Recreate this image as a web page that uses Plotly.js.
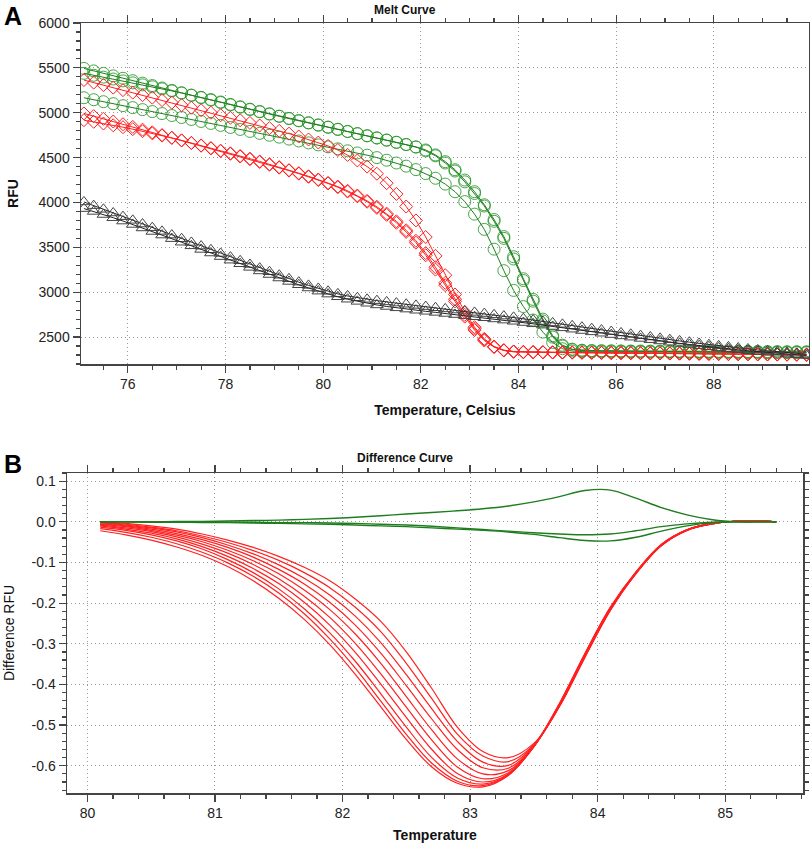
<!DOCTYPE html>
<html>
<head>
<meta charset="utf-8">
<script src="https://cdn.plot.ly/plotly-3.0.1.min.js"></script>
<style>html,body{margin:0;padding:0;background:#fff;}#chart{width:810px;height:845px;}</style>
</head>
<body>
<div id="chart"></div>
<script>
// ---------- Panel A: Melt Curve ----------
var temps = [75.1,75.3,75.5,75.7,75.9,76.1,76.3,76.5,76.7,76.9,
  77.1,77.3,77.5,77.7,77.9,78.1,78.3,78.5,78.7,78.9,
  79.1,79.3,79.5,79.7,79.9,80.1,80.3,80.5,80.7,80.9,
  81.1,81.3,81.5,81.7,81.9,82.1,82.3,82.5,82.7,82.9,
  83.1,83.3,83.5,83.7,83.9,84.1,84.3,84.5,84.7,84.9,
  85.1,85.3,85.5,85.7,85.9,86.1,86.3,86.5,86.7,86.9,
  87.1,87.3,87.5,87.7,87.9,88.1,88.3,88.5,88.7,88.9,
  89.1,89.3,89.5,89.7,89.9];

var green1 = [5494,5466,5438,5411,5384,5357,5330,5303,5276,5249,
  5222,5195,5168,5141,5114,5088,5062,5036,5010,4985,
  4960,4935,4910,4886,4862,4838,4814,4790,4766,4742,
  4718,4694,4670,4645,4618,4575,4520,4440,4350,4230,
  4100,3960,3790,3600,3370,3130,2900,2680,2500,2400,
  2360,2350,2346,2344,2343,2342,2341,2340,2340,2339,
  2338,2338,2337,2337,2336,2336,2335,2335,2334,2334,
  2333,2333,2332,2332,2331];
var green2 = [5439,5418,5397,5376,5355,5333,5311,5289,5266,5243,
  5220,5196,5172,5147,5120,5093,5066,5040,5014,4988,
  4962,4937,4912,4888,4864,4840,4816,4792,4768,4744,
  4720,4696,4671,4646,4619,4585,4530,4455,4365,4250,
  4120,3975,3810,3620,3395,3150,2920,2700,2515,2410,
  2365,2354,2350,2348,2347,2346,2345,2345,2344,2344,
  2343,2343,2342,2342,2341,2341,2340,2340,2339,2339,
  2338,2338,2337,2337,2336];
var green3 = [5167,5145,5123,5101,5079,5057,5035,5013,4991,4969,
  4947,4925,4903,4881,4859,4836,4814,4792,4770,4749,
  4728,4706,4685,4664,4642,4620,4598,4576,4552,4527,
  4500,4471,4440,4405,4366,4322,4270,4205,4120,4010,
  3870,3700,3480,3240,3020,2840,2690,2555,2440,2370,
  2345,2338,2336,2335,2334,2334,2333,2333,2332,2332,
  2331,2331,2330,2330,2330,2329,2329,2328,2328,2328,
  2327,2327,2326,2326,2326];
var red1 = [5364,5336,5308,5280,5252,5224,5196,5168,5140,5112,
  5084,5056,5028,5000,4972,4944,4916,4887,4858,4828,
  4798,4767,4735,4702,4668,4630,4585,4530,4468,4400,
  4320,4215,4095,3955,3800,3615,3405,3190,2975,2780,
  2610,2480,2395,2355,2340,2336,2334,2333,2332,2331,
  2330,2329,2328,2327,2326,2325,2324,2323,2322,2321,
  2320,2319,2318,2317,2316,2315,2314,2313,2312,2311,
  2310,2309,2308,2307,2306];
var red2 = [4992,4962,4932,4902,4872,4842,4812,4782,4752,4722,
  4692,4662,4632,4602,4572,4542,4512,4482,4451,4420,
  4388,4355,4321,4286,4250,4212,4170,4122,4068,4008,
  3940,3862,3774,3672,3552,3412,3252,3078,2898,2728,
  2578,2462,2388,2350,2336,2331,2330,2329,2328,2327,
  2326,2325,2324,2323,2322,2321,2320,2319,2318,2317,
  2316,2315,2314,2313,2312,2311,2310,2309,2308,2307,
  2306,2305,2304,2303,2302];
var red3 = [4917,4899,4880,4860,4839,4817,4794,4770,4745,4719,
  4692,4664,4636,4607,4578,4548,4518,4488,4457,4426,
  4394,4361,4327,4292,4256,4218,4177,4130,4077,4018,
  3952,3876,3790,3690,3573,3436,3278,3104,2922,2748,
  2594,2472,2393,2352,2337,2332,2331,2330,2329,2328,
  2327,2326,2325,2324,2323,2322,2321,2320,2319,2318,
  2317,2316,2315,2314,2313,2312,2311,2310,2309,2308,
  2307,2306,2305,2304,2303];
var black1 = [4006,3965,3924,3883,3842,3801,3760,3719,3678,3637,
  3596,3555,3514,3473,3432,3391,3350,3309,3268,3228,
  3189,3150,3112,3076,3042,3010,2982,2958,2938,2921,
  2906,2892,2879,2866,2853,2840,2827,2814,2801,2788,
  2775,2762,2748,2734,2720,2705,2690,2674,2658,2642,
  2626,2610,2594,2578,2562,2546,2531,2516,2501,2486,
  2471,2457,2443,2429,2415,2402,2390,2378,2367,2356,
  2346,2337,2328,2319,2310];
var black2 = [3932,3900,3866,3830,3793,3755,3716,3677,3637,3597,
  3557,3517,3477,3437,3397,3357,3317,3277,3237,3197,
  3158,3120,3083,3047,3012,2979,2949,2922,2898,2877,
  2858,2841,2826,2812,2799,2787,2775,2763,2751,2739,
  2727,2715,2702,2689,2676,2662,2648,2633,2618,2603,
  2588,2573,2558,2543,2528,2513,2499,2485,2471,2457,
  2443,2430,2417,2404,2392,2380,2369,2358,2348,2338,
  2329,2320,2311,2302,2294];

// ---------- Panel B: Difference Curve ----------
var diffTemps = [80.1,80.3,80.5,80.7,80.9,81.1,81.3,81.5,81.7,81.9,
  82.1,82.3,82.5,82.7,82.9,83.1,83.3,83.5,83.7,83.9,
  84.1,84.3,84.5,84.7,84.9,85.1,85.3,85.4];

var diffRed0 = [0.000,-0.004,-0.010,-0.018,-0.030,-0.045,-0.063,-0.085,-0.112,-0.145,-0.190,-0.245,-0.320,-0.410,-0.505,-0.565,-0.580,
  -0.545,-0.455,-0.334,-0.218,-0.128,-0.059,-0.021,-0.005,0.002,0.002,0.000];
var diffRed1 = [-0.002,-0.006,-0.013,-0.022,-0.035,-0.051,-0.071,-0.095,-0.125,-0.162,-0.210,-0.270,-0.348,-0.435,-0.522,-0.576,-0.590,
  -0.548,-0.454,-0.332,-0.217,-0.127,-0.058,-0.021,-0.005,0.002,0.002,0.000];
var diffRed2 = [-0.003,-0.008,-0.015,-0.025,-0.039,-0.057,-0.079,-0.106,-0.139,-0.180,-0.232,-0.297,-0.376,-0.460,-0.540,-0.591,-0.599,
  -0.550,-0.453,-0.331,-0.216,-0.127,-0.058,-0.021,-0.005,0.002,0.002,0.000];
var diffRed3 = [-0.005,-0.010,-0.018,-0.029,-0.044,-0.063,-0.087,-0.117,-0.153,-0.198,-0.254,-0.323,-0.403,-0.485,-0.560,-0.605,-0.606,
  -0.551,-0.452,-0.330,-0.215,-0.126,-0.058,-0.020,-0.005,0.002,0.002,0.000];
var diffRed4 = [-0.006,-0.012,-0.021,-0.033,-0.049,-0.070,-0.096,-0.128,-0.168,-0.216,-0.276,-0.348,-0.430,-0.512,-0.583,-0.620,-0.612,
  -0.552,-0.451,-0.329,-0.214,-0.126,-0.057,-0.020,-0.004,0.002,0.002,0.000];
var diffRed5 = [-0.008,-0.015,-0.024,-0.037,-0.055,-0.077,-0.105,-0.140,-0.183,-0.235,-0.299,-0.374,-0.456,-0.537,-0.603,-0.632,-0.617,
  -0.553,-0.450,-0.328,-0.213,-0.125,-0.057,-0.020,-0.004,0.002,0.002,0.000];
var diffRed6 = [-0.010,-0.018,-0.028,-0.042,-0.061,-0.085,-0.115,-0.152,-0.198,-0.254,-0.321,-0.399,-0.481,-0.560,-0.619,-0.640,-0.620,
  -0.553,-0.449,-0.327,-0.212,-0.125,-0.057,-0.020,-0.004,0.002,0.002,0.000];
var diffRed7 = [-0.013,-0.021,-0.032,-0.047,-0.067,-0.093,-0.125,-0.165,-0.214,-0.273,-0.343,-0.423,-0.505,-0.580,-0.630,-0.645,-0.622,
  -0.553,-0.449,-0.326,-0.211,-0.124,-0.056,-0.020,-0.004,0.002,0.002,0.000];
var diffRed8 = [-0.017,-0.026,-0.038,-0.054,-0.075,-0.101,-0.134,-0.175,-0.226,-0.288,-0.360,-0.441,-0.523,-0.594,-0.638,-0.649,-0.623,
  -0.553,-0.448,-0.325,-0.211,-0.124,-0.056,-0.020,-0.004,0.002,0.002,0.000];
var diffRed9 = [-0.022,-0.032,-0.045,-0.062,-0.083,-0.110,-0.145,-0.188,-0.240,-0.302,-0.375,-0.455,-0.535,-0.603,-0.643,-0.652,-0.624,
  -0.552,-0.447,-0.324,-0.210,-0.124,-0.056,-0.020,-0.004,0.002,0.002,0.000];

var diffGreenA = [0.000,0.000,0.000,0.001,0.001,0.002,0.003,0.004,0.006,0.008,0.011,0.015,0.019,0.023,0.027,0.032,0.039,
  0.049,0.062,0.077,0.078,0.058,0.035,0.017,0.005,0.000,0.000,0.000];
var diffGreenB = [0.000,0.000,0.000,0.000,0.000,-0.001,-0.001,-0.002,-0.002,-0.003,-0.004,-0.006,-0.008,-0.011,-0.015,-0.019,-0.023,
  -0.027,-0.030,-0.032,-0.030,-0.022,-0.012,-0.005,-0.001,0.000,0.000,0.000];
var diffGreenC = [0.000,0.000,-0.001,-0.001,-0.002,-0.002,-0.003,-0.004,-0.005,-0.006,-0.008,-0.010,-0.012,-0.015,-0.018,-0.021,-0.025,
  -0.031,-0.039,-0.046,-0.047,-0.038,-0.023,-0.010,-0.002,0.000,0.000,0.000];

var diffTickVals = [0.1,0.0,-0.1,-0.2,-0.3,-0.4,-0.5,-0.6];
var diffTickText = ['0.1','0.0','-0.1','-0.2','-0.3','-0.4','-0.5','-0.6'];

// ---------- Traces ----------
var GREEN_LINE = '#1e7d1e', GREEN_MK = 'rgba(40,150,40,0.85)';
var RED = '#ff2020', BLACK = '#222222';
var traces = [];
function meltTrace(y, sym, mk, ln, sz){
  return {x: temps, y: y, type:'scatter', mode:'lines+markers', xaxis:'x', yaxis:'y',
    line:{color:ln, width:1}, marker:{symbol:sym, size:sz, color:mk, line:{width:1, color:mk}},
    hoverinfo:'skip', showlegend:false};
}
[green1, green2, green3].forEach(function(s){ traces.push(meltTrace(s,'circle-open',GREEN_MK,GREEN_LINE,12)); });
[red1, red2, red3].forEach(function(s){ traces.push(meltTrace(s,'diamond-open',RED,RED,10)); });
[black1, black2].forEach(function(s){ traces.push(meltTrace(s,'triangle-up-open','#444',BLACK,11)); });

[diffRed0,diffRed1,diffRed2,diffRed3,diffRed4,diffRed5,diffRed6,diffRed7,diffRed8,diffRed9].forEach(function(s){
  traces.push({x: diffTemps, y: s, type:'scatter', mode:'lines', xaxis:'x2', yaxis:'y2',
    line:{color:RED, width:1.2, shape:'spline', smoothing:1}, hoverinfo:'skip', showlegend:false});
});
[diffGreenA, diffGreenB, diffGreenC].forEach(function(s){
  traces.push({x: diffTemps, y: s, type:'scatter', mode:'lines', xaxis:'x2', yaxis:'y2',
    line:{color:GREEN_LINE, width:1.4, shape:'spline', smoothing:1}, hoverinfo:'skip', showlegend:false});
});

// ---------- Layout ----------
var FONT = 'Liberation Sans, Arial, sans-serif';
var AX = '#444';
function P(px){ return px/810; }
function Q(py){ return 1 - py/845; }
var common = {showline:true, linecolor:AX, linewidth:1.5, mirror:'ticks', ticks:'outside', ticklen:7, tickwidth:1.2, tickcolor:AX,
  showgrid:true, gridcolor:'#999999', griddash:'1px,3px', gridwidth:1, zeroline:false, automargin:false,
  tickfont:{family:FONT, size:14, color:'#222'}};

var layout = {
  width:810, height:845, margin:{l:0,r:0,t:0,b:0}, paper_bgcolor:'#fff', plot_bgcolor:'#fff',
  font:{family:FONT},
  xaxis: Object.assign({}, common, {domain:[P(81), P(809)], range:[75.04, 89.95], dtick:2, tick0:0,
    minor:{ticks:'outside', ticklen:4, tickcolor:AX, dtick:0.5, tick0:0, showgrid:false},
    title:{text:'<b>Temperature, Celsius</b>', font:{family:FONT, size:14, color:'#111'}, standoff:14}}),
  yaxis: Object.assign({}, common, {domain:[Q(364), Q(23)], range:[2200, 6000], dtick:500, tick0:0,
    minor:{ticks:'outside', ticklen:4, tickcolor:AX, dtick:100, tick0:0, showgrid:false},
    title:{text:'<b>RFU</b>', font:{family:FONT, size:14, color:'#111'}, standoff:16}}),
  xaxis2: Object.assign({}, common, {anchor:'y2', domain:[P(67), P(803)], range:[79.84, 85.61], dtick:1, tick0:0,
    minor:{ticks:'outside', ticklen:4, tickcolor:AX, dtick:0.2, tick0:0, showgrid:false},
    title:{text:'<b>Temperature</b>', font:{family:FONT, size:14, color:'#111'}, standoff:10}}),
  yaxis2: Object.assign({}, common, {anchor:'x2', domain:[Q(793), Q(473)], range:[-0.667, 0.12],
    tickmode:'array', tickvals:diffTickVals, ticktext:diffTickText,
    minor:{ticks:'outside', ticklen:4, tickcolor:AX, tickmode:'linear', dtick:0.02, tick0:0, showgrid:false},
    title:{text:'Difference RFU', font:{family:FONT, size:14, color:'#111'}, standoff:13}}),
  annotations:[
    {text:'<b>Melt Curve</b>', x:0.5, y:Q(10), xref:'paper', yref:'paper', showarrow:false, xanchor:'center', yanchor:'middle',
      font:{family:FONT, size:12, color:'#111'}},
    {text:'<b>Difference Curve</b>', x:0.5, y:Q(458), xref:'paper', yref:'paper', showarrow:false, xanchor:'center', yanchor:'middle',
      font:{family:FONT, size:12, color:'#111'}},
    {text:'<b>A</b>', x:P(13), y:Q(16), xref:'paper', yref:'paper', showarrow:false, xanchor:'center', yanchor:'middle',
      font:{family:FONT, size:25, color:'#000'}},
    {text:'<b>B</b>', x:P(13), y:Q(464), xref:'paper', yref:'paper', showarrow:false, xanchor:'center', yanchor:'middle',
      font:{family:FONT, size:25, color:'#000'}}
  ]
};

Plotly.newPlot('chart', traces, layout, {staticPlot:true, displayModeBar:false});
</script>
</body>
</html>
